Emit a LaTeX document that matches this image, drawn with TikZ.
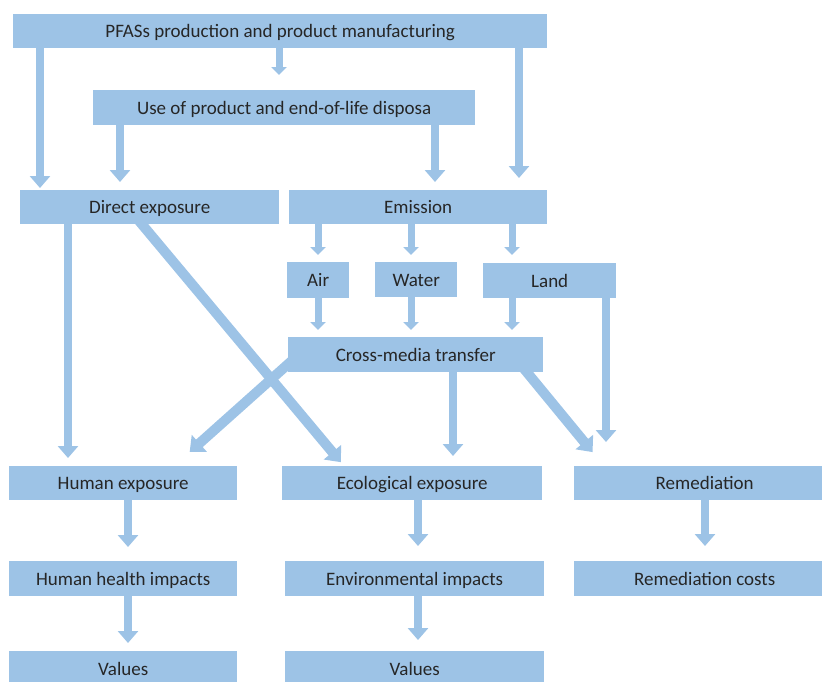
\documentclass[tikz,border=0pt]{standalone}
\usepackage{fontspec}
\setmainfont{Carlito}
\usetikzlibrary{arrows.meta}
\definecolor{boxblue}{HTML}{9DC3E6}
\definecolor{txt}{HTML}{262626}
\pgfdeclarelayer{bg}
\pgfsetlayers{bg,main}
\begin{document}
\begin{tikzpicture}[x=1pt,y=-1pt,
  box/.style={fill=boxblue,draw=none,inner sep=0pt,anchor=north west,
    font=\fontsize{19}{22}\selectfont,text=txt,text height=15pt,text depth=2pt},
  arr/.style={draw=boxblue,line width=8pt,-{Triangle[width=20pt,length=12pt]}},
  sarr/.style={draw=boxblue,line width=7pt,-{Triangle[width=15pt,length=8pt]}},
  darr/.style={draw=boxblue,line width=10pt,-{Triangle[width=22pt,length=13pt]}}]
\useasboundingbox (0,0) rectangle (822,681);
% boxes
\node[box,minimum width=534pt,minimum height=34pt] (top) at (13,14) {PFASs production and product manufacturing};
\node[box,minimum width=382pt,minimum height=35pt] (use) at (93,90) {Use of product and end-of-life disposa};
\node[box,minimum width=259pt,minimum height=34pt] (dex) at (20,190) {Direct exposure};
\node[box,minimum width=258pt,minimum height=34pt] (emi) at (289,190) {Emission};
\node[box,minimum width=62pt,minimum height=36pt] (air) at (287,262) {Air};
\node[box,minimum width=82pt,minimum height=35pt] (water) at (375,262) {Water};
\node[box,minimum width=133pt,minimum height=35pt] (land) at (483,263) {Land};
\node[box,minimum width=255pt,minimum height=35pt] (cross) at (288,337) {Cross-media transfer};
\node[box,minimum width=228pt,minimum height=34pt] (hum) at (9,466) {Human exposure};
\node[box,minimum width=260pt,minimum height=34pt] (eco) at (282,466) {Ecological exposure};
\node[box,minimum width=261pt,minimum height=34pt] (rem) at (574,466) {Remediation};
\node[box,minimum width=228pt,minimum height=35pt] (hhi) at (9,561) {Human health impacts};
\node[box,minimum width=259pt,minimum height=35pt] (env) at (285,561) {Environmental impacts};
\node[box,minimum width=261pt,minimum height=35pt] (remc) at (574,561) {Remediation costs};
\node[box,minimum width=228pt,minimum height=35pt] (val1) at (9,651) {Values};
\node[box,minimum width=259pt,minimum height=35pt] (val2) at (285,651) {Values};
% connectors
\begin{pgfonlayer}{bg}
\draw[arr,shorten >=2pt] (top.south -| 40,0) -- (dex.north -| 40,0);
\draw[sarr,shorten >=15pt] (top.south -| 279,0) -- (use.north -| 279,0);
\draw[arr,shorten >=12pt] (top.south -| 519,0) -- (emi.north -| 519,0);
\draw[arr,shorten >=8pt] (use.south -| 120,0) -- (dex.north -| 120,0);
\draw[arr,shorten >=8pt] (use.south -| 435,0) -- (emi.north -| 435,0);
\draw[sarr,shorten >=7pt] (emi.south -| 318,0) -- (air.north -| 318,0);
\draw[sarr,shorten >=7pt] (emi.south -| 411,0) -- (water.north -| 411,0);
\draw[sarr,shorten >=8pt] (emi.south -| 512,0) -- (land.north -| 512,0);
\draw[sarr,shorten >=7pt] (air.south -| 318,0) -- (cross.north -| 318,0);
\draw[sarr,shorten >=7pt] (water.south -| 411,0) -- (cross.north -| 411,0);
\draw[sarr,shorten >=7pt] (land.south -| 512,0) -- (cross.north -| 512,0);
\draw[arr,shorten >=24pt] (land.south -| 606,0) -- (rem.north -| 606,0);
\draw[arr,shorten >=8pt] (dex.south -| 68,0) -- (hum.north -| 68,0);
\draw[darr,shorten <=-8pt,shorten >=5pt] (dex.south -| 142,0) -- (eco.north -| 344,0);
\draw[darr,shorten <=-8pt,shorten >=21pt] ([yshift=-9.5pt]cross.west) -- (hum.north -| 174,0);
\draw[arr,shorten >=10pt] (cross.south -| 453,0) -- (eco.north -| 453,0);
\draw[darr,shorten <=-8pt,shorten >=18pt] (cross.south -| 527,0) -- (rem.north -| 604,0);
\draw[arr,shorten >=14pt] (hum.south -| 128,0) -- (hhi.north -| 128,0);
\draw[arr,shorten >=15pt] (eco.south -| 418,0) -- (env.north -| 418,0);
\draw[arr,shorten >=15pt] (rem.south -| 705,0) -- (remc.north -| 705,0);
\draw[arr,shorten >=8pt] (hhi.south -| 128,0) -- (val1.north -| 128,0);
\draw[arr,shorten >=11pt] (env.south -| 418,0) -- (val2.north -| 418,0);
\end{pgfonlayer}
\end{tikzpicture}
\end{document}
